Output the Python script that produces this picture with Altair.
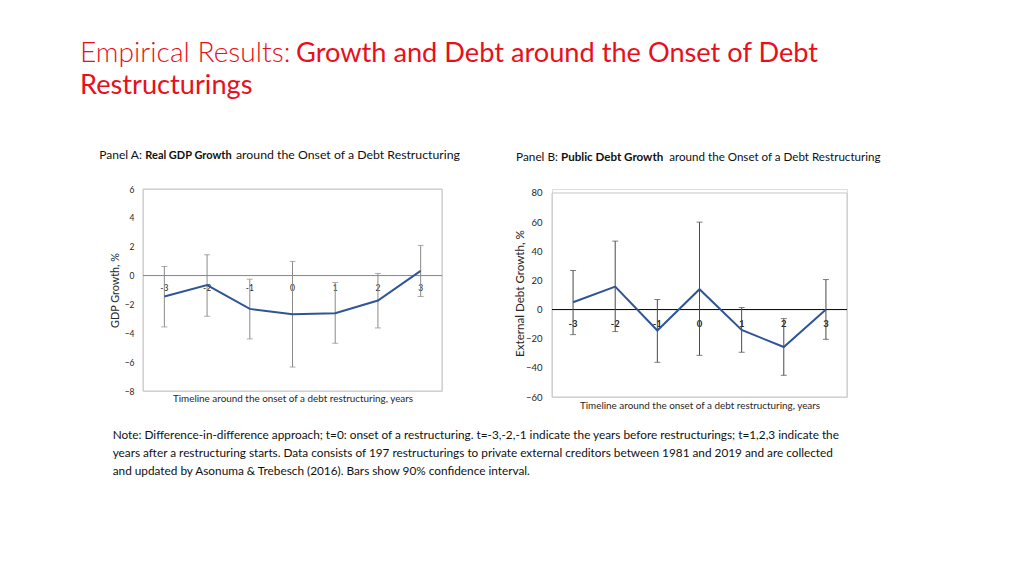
import altair as alt
import pandas as pd

# ---------------- data ----------------
years = [-3, -2, -1, 0, 1, 2, 3]
year_labels = ["-3", "-2", "-1", "0", "1", "2", "3"]

gdp_growth = [-1.45, -0.66, -2.31, -2.68, -2.61, -1.73, 0.33]
gdp_low = [-3.56, -2.82, -4.39, -6.34, -4.69, -3.63, -1.45]
gdp_high = [0.63, 1.44, -0.25, 0.98, -0.48, 0.15, 2.09]

debt_growth = [5.0, 15.8, -14.4, 14.0, -14.0, -25.7, 0.0]
debt_low = [-17.2, -15.1, -36.2, -31.4, -29.3, -45.1, -20.4]
debt_high = [26.8, 47.0, 6.9, 60.0, 1.4, -6.2, 20.6]

gdp_ticks = [-8, -6, -4, -2, 0, 2, 4, 6]
debt_ticks = [-60, -40, -20, 0, 20, 40, 60, 80]

title_light = "Empirical Results:"
title_main = "Growth and Debt around the Onset of Debt"
title_line2 = "Restructurings"
panel_a_parts = ["Panel A:", "Real GDP Growth", "around the Onset of a Debt Restructuring"]
panel_b_parts = ["Panel B:", "Public Debt Growth", "around the Onset of a Debt Restructuring"]
note_lines = [
    "Note: Difference-in-difference approach; t=0: onset of a restructuring. t=-3,-2,-1 indicate the years before restructurings; t=1,2,3 indicate the",
    "years after a restructuring starts. Data consists of 197 restructurings to private external creditors between 1981 and 2019 and are collected",
    "and updated by Asonuma & Trebesch (2016). Bars show 90% confidence interval.",
]
x_title = "Timeline around the onset of a debt restructuring, years"

FONT = "Lato"
RED = "#e8101a"
LINE = "#2f5597"

one = pd.DataFrame({"k": [0]})


def txt(text, x, y, size, weight="normal", color="#111111", align="left"):
    return alt.Chart(one).mark_text(
        text=text, align=align, baseline="alphabetic", font=FONT,
        fontSize=size, fontWeight=weight, color=color,
    ).encode(x=alt.value(x), y=alt.value(y))


def panel(vals, lo, hi, ticks, domain, width, height, ytitle, ytitle_size,
          label_size, label_pad, title_pad, bar_color, zero_color, tick_dy,
          tick_size, tick_weight, xtitle_pad, extra):
    df = pd.DataFrame({"t": years, "lab": year_labels, "v": vals, "lo": lo, "hi": hi})
    yscale = alt.Scale(domain=domain, nice=False, zero=False)
    yaxis = alt.Axis(values=ticks, grid=False, ticks=False, domain=False,
                     labelFontSize=label_size, labelPadding=label_pad,
                     labelColor="#262626", labelFont=FONT,
                     title=ytitle, titleFontSize=ytitle_size, titleFontWeight="normal",
                     titleColor="#262626", titleFont=FONT, titlePadding=title_pad)
    xenc = alt.X("t:O", scale=alt.Scale(type="point", padding=0.5),
                 axis=alt.Axis(labels=False, ticks=False, domain=False,
                               title=x_title, titleFontSize=9.9,
                               titleFontWeight="normal", titleColor="#262626",
                               titleFont=FONT, titlePadding=xtitle_pad))

    def Y(field):
        return alt.Y(field, type="quantitative", scale=yscale, axis=yaxis)

    frame = alt.Chart(one).mark_rect(fill=None, stroke="#c6c6c6", strokeWidth=1).encode(
        x=alt.value(0), x2=alt.value(width),
        y=alt.YDatum(datum=ticks[-1], type="quantitative", scale=yscale, axis=yaxis),
        y2=alt.datum(ticks[0]),
    )
    zero = alt.Chart(one).mark_rule(color=zero_color, strokeWidth=1).encode(
        y=alt.YDatum(datum=0, type="quantitative", scale=yscale, axis=yaxis)
    )
    labels = alt.Chart(df).mark_text(
        font=FONT, fontSize=tick_size, fontWeight=tick_weight, color="#262626",
        baseline="middle", dy=tick_dy
    ).encode(x=xenc, y=alt.YDatum(datum=0, type="quantitative", scale=yscale, axis=yaxis),
             text="lab:N")
    bars = alt.Chart(df).mark_rule(color=bar_color, strokeWidth=1).encode(
        x=xenc, y=Y("lo"), y2="hi"
    )
    cap_lo = alt.Chart(df).mark_tick(color=bar_color, size=6, thickness=1).encode(x=xenc, y=Y("lo"))
    cap_hi = alt.Chart(df).mark_tick(color=bar_color, size=6, thickness=1).encode(x=xenc, y=Y("hi"))
    line = alt.Chart(df).mark_line(color=LINE, strokeWidth=2).encode(x=xenc, y=Y("v"))

    return alt.layer(frame, labels, zero, bars, cap_lo, cap_hi, line, *extra).properties(
        width=width, height=height
    )


# ---- texts placed relative to panel A plot area (origin at page 142,188)
anchor = alt.Chart(one).mark_rule(opacity=0, strokeWidth=0).encode(
    x=alt.value(-134), x2=alt.value(-133), y=alt.value(-180)
)
extra_a = [
    anchor,
    txt(title_light, -63, -127, 28.2, weight=300, color=RED),
    txt(title_main, 153, -127, 27.2, color=RED),
    txt(title_line2, -63, -95, 27.2, color=RED),
    txt(panel_a_parts[0], -1.0, -29.7, 12.0, align="right"),
    txt(panel_a_parts[1], 2.3, -29.7, 11.0, weight="bold"),
    txt(panel_a_parts[2], 93, -29.7, 12.3),
    txt(note_lines[0], -30.3, 250.3, 11.8),
    txt(note_lines[1], -30.3, 268.0, 11.8),
    txt(note_lines[2], -30.3, 285.5, 11.8),
]
extra_b = [
    txt(panel_b_parts[0], 6, -28, 11.8, align="right"),
    txt(panel_b_parts[1], 9, -28, 11.6, weight="bold"),
    txt(panel_b_parts[2], 117.3, -28, 11.6),
]

panel_a = panel(gdp_growth, gdp_low, gdp_high, gdp_ticks, [-8, 6], 299, 202,
                "GDP Growth, %", 10.8, 8.5, 9, 4, "#8a8a8a", "#868686", 12.6, 8.5,
                "normal", 2, extra_a)
panel_b = panel(debt_growth, debt_low, debt_high, debt_ticks, [-60, 82.745], 295, 208,
                "External Debt Growth, %", 11.6, 9.5, 10, 0, "#4a4a4a", "#000000", 14.6, 9.5,
                "bold", 3, extra_b)

chart = alt.hconcat(panel_a, panel_b, spacing=110, bounds="flush").properties(
    padding=0
).configure_view(stroke=None).configure(font=FONT)

chart.save("out.html", embed_options={"renderer": "svg", "actions": False})
